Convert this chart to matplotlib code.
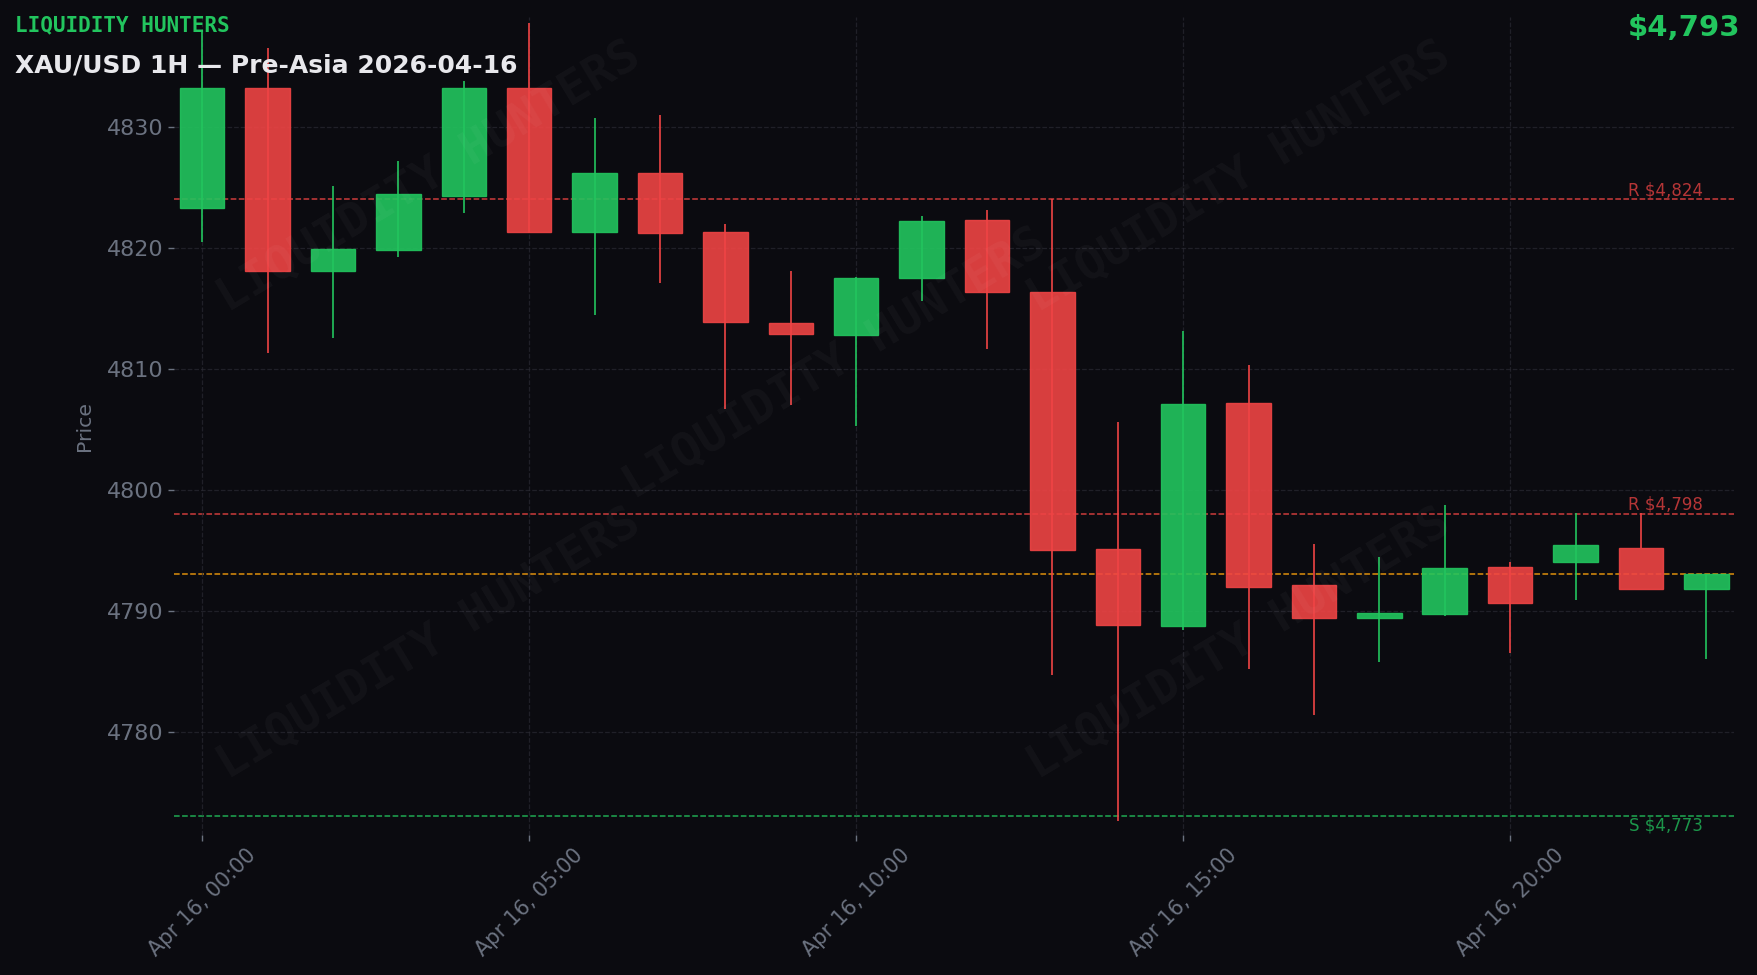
import matplotlib
matplotlib.use("Agg")
import matplotlib.pyplot as plt
import matplotlib.dates as mdates
import pandas as pd
import numpy as np

times = pd.date_range("2026-04-16 00:00", periods=24, freq="h")
opens  = [4823.3, 4833.2, 4818.1, 4819.8, 4824.3, 4833.2, 4821.3, 4826.2, 4821.3, 4813.8, 4812.8, 4817.5,
          4822.3, 4816.3, 4795.1, 4788.7, 4807.2, 4792.1, 4789.4, 4789.7, 4793.6, 4794.0, 4795.2, 4791.8]
closes = [4833.2, 4818.1, 4819.9, 4824.4, 4833.2, 4821.3, 4826.2, 4821.2, 4813.9, 4812.9, 4817.5, 4822.2,
          4816.3, 4795.0, 4788.8, 4807.1, 4792.0, 4789.4, 4789.8, 4793.5, 4790.6, 4795.4, 4791.8, 4793.0]
highs  = [4837.9, 4836.5, 4825.1, 4827.2, 4833.8, 4838.6, 4830.7, 4831.0, 4822.0, 4818.1, 4817.6, 4822.6,
          4823.1, 4824.0, 4805.6, 4813.1, 4810.3, 4795.5, 4794.4, 4798.7, 4794.0, 4798.1, 4798.1, 4793.0]
lows   = [4820.5, 4811.3, 4812.5, 4819.2, 4822.9, 4821.2, 4814.4, 4817.1, 4806.7, 4807.0, 4805.3, 4815.6,
          4811.6, 4784.7, 4772.6, 4788.4, 4785.2, 4781.4, 4785.8, 4789.6, 4786.5, 4790.9, 4795.2, 4786.0]

resistance_levels = [4824, 4798]
support_levels = [4773]
current_price = 4793

BG = "#0b0b10"
GREEN = "#22c55e"
RED = "#ef4444"
ORANGE = "#f59e0b"
TICK = "#6b7280"
GRID = "#2a2a33"

fig = plt.figure(figsize=(17.58, 9.75), dpi=100, facecolor=BG)
ax = fig.add_axes([0.099, 0.144, 0.8876, 0.839])
ax.set_facecolor(BG)

x = mdates.date2num(times)
w = 0.68 / 24
for xi, o, c, h, l in zip(x, opens, closes, highs, lows):
    col = GREEN if c >= o else RED
    ax.vlines(xi, l, h, color=col, linewidth=1.2, zorder=2)
    ax.bar(xi, abs(c - o), bottom=min(o, c), width=w, color=col, alpha=0.9,
           edgecolor=col, linewidth=1.0, zorder=3)

for r in resistance_levels:
    ax.axhline(r, color=RED, linestyle="--", linewidth=1.1, alpha=0.85, zorder=1)
    ax.text(0.98, r, f"R ${r:,}", transform=ax.get_yaxis_transform(), ha="right", va="bottom",
            color=RED, alpha=0.75, fontsize=12)
for s in support_levels:
    ax.axhline(s, color=GREEN, linestyle="--", linewidth=1.1, alpha=0.85, zorder=1)
    ax.text(0.98, s, f"S ${s:,}", transform=ax.get_yaxis_transform(), ha="right", va="top",
            color=GREEN, alpha=0.75, fontsize=12)
ax.axhline(current_price, color=ORANGE, linestyle="--", linewidth=1.1, alpha=0.9, zorder=1)

ax.set_xlim(x[0] - 0.43 / 24, x[-1] + 0.43 / 24)
ax.set_ylim(4771.5, 4839.1)

ax.xaxis.set_major_locator(mdates.HourLocator(byhour=[0, 5, 10, 15, 20]))
ax.xaxis.set_major_formatter(mdates.DateFormatter("%b %d, %H:%M"))
ax.set_yticks([4780, 4790, 4800, 4810, 4820, 4830])
for lbl in ax.get_xticklabels():
    lbl.set_rotation(45)
ax.tick_params(axis="both", colors=TICK, length=4, width=1)
ax.tick_params(axis="x", labelsize=15)
ax.tick_params(axis="y", labelsize=16)
ax.grid(True, color=GRID, linestyle="--", linewidth=0.9, alpha=0.7, zorder=0)
for sp in ax.spines.values():
    sp.set_visible(False)
ax.set_ylabel("Price", color=TICK, fontsize=14.7, labelpad=9)

# watermark
for (fx, fy) in [(0.244, 0.818), (0.705, 0.818), (0.475, 0.626), (0.244, 0.339), (0.705, 0.339)]:
    fig.text(fx, fy, "LIQUIDITY HUNTERS", fontsize=34, family="DejaVu Sans Mono", fontweight="bold",
             color="white", alpha=0.035, rotation=31, ha="center", va="center", zorder=0)

fig.text(0.0083, 0.974, "LIQUIDITY HUNTERS", fontsize=15.1, family="DejaVu Sans Mono",
         fontweight="bold", color=GREEN, ha="left", va="center")
fig.text(0.0083, 0.933, "XAU/USD 1H \u2014 Pre-Asia 2026-04-16", fontsize=18, fontweight="bold",
         color="#e8e8ec", ha="left", va="center")
fig.text(0.990, 0.971, f"${current_price:,}", fontsize=21, fontweight="bold", color=GREEN,
         ha="right", va="center")

fig.savefig("out.png", dpi=100, facecolor=BG)
